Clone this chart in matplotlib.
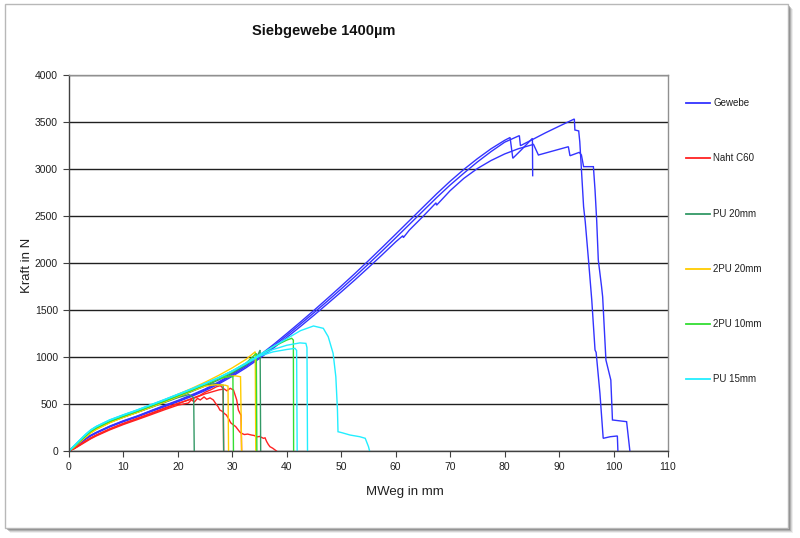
import matplotlib
matplotlib.use("Agg")
import matplotlib.pyplot as plt
from matplotlib.lines import Line2D
from matplotlib.patches import Rectangle

plt.rcParams['font.family'] = ['Liberation Sans', 'DejaVu Sans']

# ---- data (MWeg in mm, Kraft in N) ----
gewebe1_x = [0, 1, 2, 3, 4, 5, 7.5, 10, 12.5, 15, 17.5, 20, 22.5, 25, 27.5, 30, 32.5, 35, 37.5, 40,
             42.5, 45, 47.5, 50, 52.5, 55, 57.5, 60, 62.5, 65, 67.5, 70, 72.5, 75, 77.5, 80, 81, 81.5,
             83, 85.1, 85.15]
gewebe1_y = [0, 42, 88, 132, 168, 198, 265, 322, 372, 428, 484, 538, 597, 660, 735, 820, 915, 1018, 1130, 1250,
             1372, 1497, 1625, 1755, 1888, 2025, 2165, 2307, 2450, 2593, 2735, 2870, 2995, 3110, 3215, 3305, 3335, 3114,
             3200, 3326, 2929]

gewebe2_x = [0, 1, 2, 3, 4, 5, 7.5, 10, 12.5, 15, 17.5, 20, 22.5, 25, 27.5, 30, 32.5, 35, 37.5, 40,
             42.5, 45, 47.5, 50, 52.5, 55, 57.5, 60, 62.5, 65, 67.5, 70, 72.5, 75, 77.5, 80, 82.7, 82.9,
             85, 87.5, 90, 92.8, 92.9, 93.6, 93.8, 94.0, 94.5, 94.8, 95.4, 96.0, 96.6, 96.8, 97.5, 98.1,
             99.4, 100.7, 100.8]
gewebe2_y = [0, 40, 85, 128, 165, 195, 262, 318, 368, 425, 480, 533, 590, 652, 725, 808, 900, 1000, 1112, 1230,
             1350, 1472, 1597, 1725, 1855, 1990, 2128, 2268, 2410, 2553, 2695, 2830, 2955, 3075, 3185, 3285, 3355, 3248,
             3310, 3385, 3455, 3532, 3415, 3405, 3290, 3096, 2599, 2440, 2032, 1606, 1074, 1050, 614, 135,
             152, 160, 0]

gewebe3_x = [0, 1, 2, 3, 4, 5, 7.5, 10, 12.5, 15, 17.5, 20, 22.5, 25, 27.5, 30, 32.5, 35, 37.5, 40,
             42.5, 45, 47.5, 50, 52.5, 55, 57.5, 60, 61.3, 61.4, 62.5, 65, 67.4, 67.5, 70, 72.5, 75, 77.5,
             80, 82.5, 85.3, 86.2, 91.7, 92.0, 93.7, 94.1, 94.5, 96.3, 96.6, 96.9, 97.2, 97.8, 98.0, 98.6,
             99.5, 99.8, 102.4, 103.0]
gewebe3_y = [0, 38, 82, 124, 160, 190, 256, 312, 362, 417, 470, 524, 580, 642, 713, 795, 885, 985, 1093, 1208,
             1325, 1445, 1568, 1693, 1820, 1952, 2087, 2225, 2290, 2270, 2350, 2495, 2640, 2615, 2770, 2900, 3005, 3090,
             3160, 3215, 3262, 3149, 3237, 3141, 3177, 3149, 3025, 3025, 2777, 2457, 2032, 1748, 1640, 968,
             755, 330, 312, 0]

naht1_x = [0, 1, 2, 3, 4, 5, 7.5, 10, 12.5, 15, 17.5, 20, 21.9, 22.5, 23.0, 23.6, 24.1, 24.8, 25.3, 25.9,
           26.5, 27.0, 27.4, 27.7, 28.2, 28.5, 28.9, 29.3, 29.7, 30.2, 30.6, 31.0, 31.4, 31.7, 32.2, 32.8,
           33.5, 34.0, 34.5, 35.0, 35.7, 36.0, 36.3, 36.6, 36.9, 37.4, 38.1]
naht1_y = [0, 25, 60, 95, 130, 160, 225, 282, 333, 385, 438, 488, 510, 545, 520, 560, 543, 575, 550, 565,
           543, 500, 470, 436, 420, 400, 383, 345, 300, 277, 260, 230, 200, 188, 175, 180,
           170, 165, 150, 155, 135, 140, 100, 70, 46, 30, 0]
naht2_x = [0, 1, 2, 3, 4, 5, 7.5, 10, 12.5, 15, 17.5, 20, 22.5, 24, 25, 26, 27.1, 27.8, 28.3, 28.4]
naht2_y = [0, 28, 65, 102, 136, 166, 232, 290, 342, 395, 450, 502, 558, 590, 625, 650, 684, 695, 667, 0]
naht3_x = [0, 1, 2, 3, 4, 5, 7.5, 10, 12.5, 15, 17.5, 20, 22.5, 25, 27.5, 28.5, 29.0, 29.6, 30.2, 30.8,
           31.1, 31.4, 31.6, 31.7]
naht3_y = [0, 30, 68, 106, 140, 170, 236, 294, 346, 400, 455, 507, 552, 608, 650, 660, 640, 667, 649, 543,
           436, 401, 380, 0]

pu20_1_x = [0, 1, 2, 3, 4, 5, 7.5, 10, 12.5, 15, 17.5, 20, 22.0, 22.5, 22.9, 23.0]
pu20_1_y = [0, 50, 100, 150, 198, 235, 305, 360, 410, 462, 515, 568, 600, 585, 565, 0]
pu20_2_x = [0, 1, 2, 3, 4, 5, 7.5, 10, 12.5, 15, 17.5, 20, 22.5, 25, 26.5, 27.5, 28.3, 28.4]
pu20_2_y = [0, 52, 104, 155, 203, 240, 310, 366, 416, 470, 524, 580, 637, 695, 715, 705, 700, 0]
pu20_3_x = [0, 1, 2, 3, 4, 5, 7.5, 10, 12.5, 15, 17.5, 20, 22.5, 25, 27.5, 30, 32.5, 34.5, 35.1, 35.2]
pu20_3_y = [0, 50, 100, 150, 198, 236, 306, 362, 413, 466, 520, 575, 632, 692, 757, 830, 915, 1000, 1074, 0]

pu2_20_1_x = [0, 1, 2, 3, 4, 5, 7.5, 10, 12.5, 15, 17.5, 20, 22.5, 25, 27, 28.7, 29.2, 29.3]
pu2_20_1_y = [0, 45, 95, 145, 192, 228, 300, 358, 410, 465, 520, 578, 638, 690, 705, 700, 690, 0]
pu2_20_2_x = [0, 1, 2, 3, 4, 5, 7.5, 10, 12.5, 15, 17.5, 20, 22.5, 25, 27.5, 29, 30.5, 31.5, 31.7]
pu2_20_2_y = [0, 47, 98, 148, 196, 232, 305, 362, 415, 470, 526, 585, 645, 710, 770, 790, 800, 790, 0]
pu2_20_3_x = [0, 1, 2, 3, 4, 5, 7.5, 10, 12.5, 15, 17.5, 20, 22.5, 25, 27.5, 30, 32.5, 34.2, 34.3]
pu2_20_3_y = [0, 50, 105, 158, 208, 245, 318, 375, 428, 485, 543, 603, 665, 732, 805, 885, 975, 1056, 0]

pu2_10_1_x = [0, 1, 2, 3, 4, 5, 7.5, 10, 12.5, 15, 17.5, 20, 22.5, 25, 27.5, 29.5, 30.1, 30.2]
pu2_10_1_y = [0, 52, 106, 160, 210, 246, 316, 372, 423, 478, 533, 590, 648, 710, 770, 795, 790, 0]
pu2_10_2_x = [0, 1, 2, 3, 4, 5, 7.5, 10, 12.5, 15, 17.5, 20, 22.5, 25, 27.5, 30, 32.5, 34.4, 34.5]
pu2_10_2_y = [0, 54, 108, 162, 212, 248, 318, 373, 424, 479, 534, 591, 649, 710, 776, 850, 935, 1039, 0]
pu2_10_3_x = [0, 1, 2, 3, 4, 5, 7.5, 10, 12.5, 15, 17.5, 20, 22.5, 25, 27.5, 30, 32.5, 35, 37.5, 40,
              40.9, 41.2, 41.25]
pu2_10_3_y = [0, 53, 107, 161, 211, 247, 317, 372, 423, 477, 532, 588, 645, 706, 771, 844, 927, 1020, 1110, 1180,
              1199, 1180, 0]

pu15_1_x = [0, 1, 2, 3, 4, 5, 7.5, 10, 12.5, 15, 17.5, 20, 22.5, 25, 27.5, 30, 32.5, 35, 37.5, 40,
            41.5, 41.8, 41.9]
pu15_1_y = [0, 58, 116, 172, 222, 258, 328, 382, 433, 488, 543, 600, 657, 716, 778, 848, 928, 1010, 1055, 1080,
            1092, 1070, 0]
pu15_2_x = [0, 1, 2, 3, 4, 5, 7.5, 10, 12.5, 15, 17.5, 20, 22.5, 25, 27.5, 30, 32.5, 35, 37.5, 40,
            42.4, 43.5, 43.7, 43.8]
pu15_2_y = [0, 60, 118, 175, 225, 262, 332, 386, 437, 492, 547, 604, 660, 720, 783, 853, 935, 1020, 1080, 1125,
            1150, 1145, 1100, 0]
pu15_3_x = [0, 1, 2, 3, 4, 5, 7.5, 10, 12.5, 15, 17.5, 20, 22.5, 25, 27.5, 30, 32.5, 35, 37.5, 40,
            42.5, 44.9, 46.7, 47.6, 48.5, 49.0, 49.3, 49.4, 50.1, 51.6, 53.4, 54.4, 55.0, 55.2]
pu15_3_y = [0, 59, 117, 174, 224, 260, 330, 384, 435, 490, 545, 602, 659, 718, 782, 852, 935, 1025, 1110, 1195,
            1280, 1330, 1305, 1216, 1039, 790, 436, 205, 195, 170, 152, 135, 46, 0]

labels = ["Gewebe", "Naht C60", "PU 20mm", "2PU 20mm", "2PU 10mm", "PU 15mm"]
colors = ["#3333FF", "#FF2222", "#339966", "#FFCC00", "#33DD33", "#22EEFF"]
curves = [
    [(gewebe1_x, gewebe1_y), (gewebe2_x, gewebe2_y), (gewebe3_x, gewebe3_y)],
    [(naht1_x, naht1_y), (naht2_x, naht2_y), (naht3_x, naht3_y)],
    [(pu20_1_x, pu20_1_y), (pu20_2_x, pu20_2_y), (pu20_3_x, pu20_3_y)],
    [(pu2_20_1_x, pu2_20_1_y), (pu2_20_2_x, pu2_20_2_y), (pu2_20_3_x, pu2_20_3_y)],
    [(pu2_10_1_x, pu2_10_1_y), (pu2_10_2_x, pu2_10_2_y), (pu2_10_3_x, pu2_10_3_y)],
    [(pu15_1_x, pu15_1_y), (pu15_2_x, pu15_2_y), (pu15_3_x, pu15_3_y)],
]

fig = plt.figure(figsize=(8, 5.38), dpi=100)
W, H = 800, 538

# outer chart frame with a soft shadow (right / bottom)
for i, a in enumerate([0.10, 0.18, 0.30, 0.45]):
    off = 5 - i
    fig.add_artist(Rectangle(((5 + off) / W, 1 - (528 + off) / H), 783 / W, 524 / H,
                             transform=fig.transFigure, facecolor="#606060", alpha=a,
                             edgecolor="none", zorder=0))
fig.add_artist(Rectangle((5 / W, 1 - 528 / H), 783 / W, 524 / H, transform=fig.transFigure,
                         facecolor="white", edgecolor="#b8b8b8", lw=1.0, zorder=1))

ax = fig.add_axes([69 / W, 1 - 451 / H, 599 / W, 376 / H])
ax.set_zorder(2)
ax.patch.set_alpha(0)

for lab, col, group in zip(labels, colors, curves):
    for xs, ys in group:
        ax.plot(xs, ys, color=col, lw=1.0, solid_joinstyle="miter")

ax.set_xlim(0, 110)
ax.set_ylim(0, 4000)
ax.set_xticks(range(0, 111, 10))
ax.set_yticks(range(0, 4001, 500))
ax.yaxis.grid(True, color="#202020", lw=1.0)
ax.set_axisbelow(True)
ax.tick_params(axis="both", direction="out", length=4, width=0.8, color="#404040",
               labelsize=7.5, labelcolor="#202020", pad=4)
for s in ["left", "bottom"]:
    ax.spines[s].set_color("#404040")
    ax.spines[s].set_linewidth(1.0)
for s in ["top", "right"]:
    ax.spines[s].set_color("#909090")
    ax.spines[s].set_linewidth(1.0)

ax.set_xlabel("MWeg in mm", fontsize=9.5, color="#202020")
ax.set_ylabel("Kraft in N", fontsize=9.5, color="#202020")
ax.xaxis.set_label_coords((405 - 69) / 599, (451 - 492) / 376)
ax.yaxis.set_label_coords((27 - 69) / 599, (451 - 265) / 376)
ax.xaxis.label.set_va("center")
ax.yaxis.label.set_va("center")

fig.text(324 / W, 1 - 31 / H, "Siebgewebe 1400µm", fontsize=10.5, fontweight="bold",
         ha="center", va="center", color="#111111")

# legend at the right, entries spread down the plot height
leg_y = [103, 158, 214, 269, 324, 379]
for lab, col, yy in zip(labels, colors, leg_y):
    fig.add_artist(Line2D([686 / W, 710 / W], [1 - yy / H, 1 - yy / H], transform=fig.transFigure,
                          color=col, lw=1.3, zorder=3))
    fig.text(713 / W, 1 - yy / H, lab, fontsize=7, ha="left", va="center", color="#202020")

fig.savefig("out.png", dpi=100)
